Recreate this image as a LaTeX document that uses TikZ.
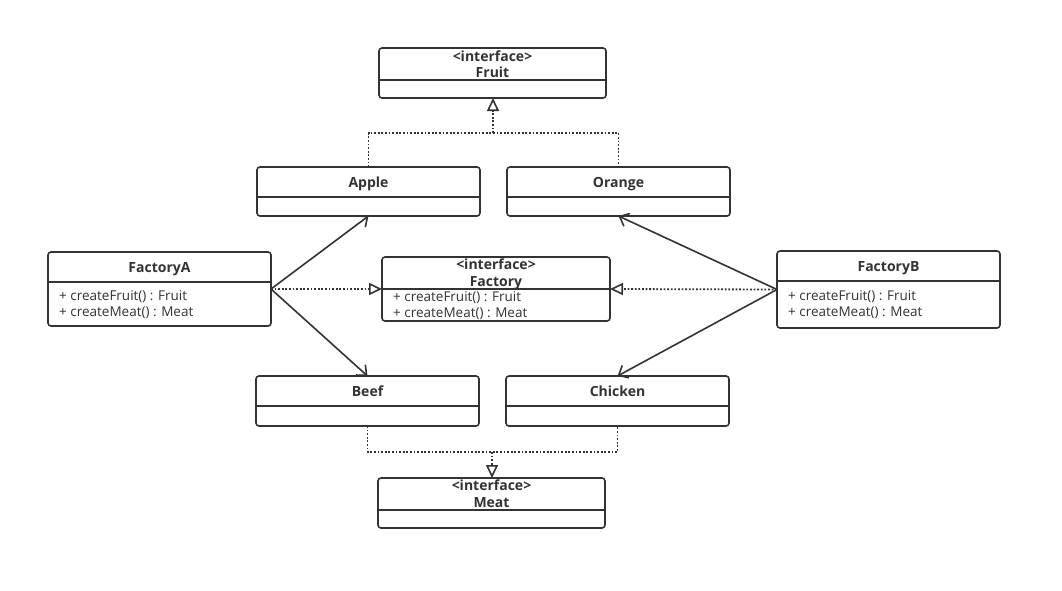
\documentclass[tikz,border=0pt]{standalone}
\usepackage{fontspec}
\setmainfont{Open Sans}
\usetikzlibrary{arrows.meta}
\definecolor{ink}{HTML}{333333}
\begin{document}
\begin{tikzpicture}[x=1pt,y=-1pt,
  cls/.style={draw=ink,line width=1.6pt,rounded corners=3pt,inner sep=0pt,outer sep=0pt,fill=white},
  ttl/.style={font=\fontsize{14}{15}\selectfont\bfseries,text=ink,inner sep=0pt,anchor=base},
  mth/.style={font=\fontsize{13.5}{16}\selectfont,text=ink,inner sep=0pt,anchor=base west},
  dotl/.style={draw=ink,line width=1.8pt,dash pattern=on 1.8pt off 1.8pt},
  real/.style={dotl,-{Triangle[open,length=13pt,width=12pt,line width=1.6pt]}},
  assoc/.style={draw=ink,line width=1.6pt,-{Straight Barb[length=8pt,width=14pt,line width=1.6pt]}}]
\useasboundingbox (0,0) rectangle (1062,590);
% boxes
\node[cls,minimum width=227pt,minimum height=50pt] (fruit) at (492.5,73) {};
\node[cls,minimum width=223pt,minimum height=49pt] (apple) at (368.5,191.5) {};
\node[cls,minimum width=223pt,minimum height=49pt] (orange) at (618.5,191.5) {};
\node[cls,minimum width=223pt,minimum height=74pt] (fa) at (159.5,289) {};
\node[cls,minimum width=228pt,minimum height=64pt] (fac) at (496,289) {};
\node[cls,minimum width=223pt,minimum height=77pt] (fb) at (888.5,289.5) {};
\node[cls,minimum width=223pt,minimum height=50pt] (beef) at (367.5,401) {};
\node[cls,minimum width=223pt,minimum height=50pt] (chicken) at (617.5,401) {};
\node[cls,minimum width=227pt,minimum height=50pt] (meat) at (491.5,503) {};
% dividers
\draw[ink,line width=1.6pt] (fruit.west |- 0,80) -- (fruit.east |- 0,80);
\draw[ink,line width=1.6pt] (apple.west |- 0,197) -- (apple.east |- 0,197);
\draw[ink,line width=1.6pt] (orange.west |- 0,197) -- (orange.east |- 0,197);
\draw[ink,line width=1.6pt] (fa.west |- 0,282) -- (fa.east |- 0,282);
\draw[ink,line width=1.6pt] (fac.west |- 0,289) -- (fac.east |- 0,289);
\draw[ink,line width=1.6pt] (fb.west |- 0,281) -- (fb.east |- 0,281);
\draw[ink,line width=1.6pt] (beef.west |- 0,406) -- (beef.east |- 0,406);
\draw[ink,line width=1.6pt] (chicken.west |- 0,406) -- (chicken.east |- 0,406);
\draw[ink,line width=1.6pt] (meat.west |- 0,510) -- (meat.east |- 0,510);
% titles
\node[ttl] (fruitS) at (492.5,61) {<interface>};
\node[ttl] (fruitT) at (492.5,77) {Fruit};
\node[ttl] (appleT) at (368.5,187) {Apple};
\node[ttl] (orangeT) at (618.5,187) {Orange};
\node[ttl] (faT) at (159.5,272) {FactoryA};
\node[ttl] (facS) at (496,269.5) {<interface>};
\node[ttl] (facT) at (496,286) {Factory};
\node[ttl] (fbT) at (888.5,271) {FactoryB};
\node[ttl] (beefT) at (367.5,396) {Beef};
\node[ttl] (chickenT) at (617.5,396) {Chicken};
\node[ttl] (meatS) at (491.5,490.5) {<interface>};
\node[ttl] (meatT) at (491.5,507) {Meat};
% methods
\node[mth] (faM1) at (59,300.5) {+ createFruit() : Fruit};
\node[mth] (faM2) at (59,316.5) {+ createMeat() : Meat};
\node[mth] (facM1) at (393,301.5) {+ createFruit() : Fruit};
\node[mth] (facM2) at (393,317.5) {+ createMeat() : Meat};
\node[mth] (fbM1) at (788,300.5) {+ createFruit() : Fruit};
\node[mth] (fbM2) at (788,316.5) {+ createMeat() : Meat};
% realization connectors
\coordinate (fj) at (493,133);
\coordinate (mj) at (492,452);
\draw[dotl] (apple.north) |- (fj) -| (orange.north);
\draw[real] (fj) -- (fj |- fruit.south);
\draw[dotl] (beef.south) |- (mj) -| (chicken.south);
\draw[real] (mj) -- (mj |- meat.north);
\coordinate (fap) at (fa.east);
\coordinate (fbp) at (fb.west);
\draw[real] (fap) -- (fac.west);
\draw[real] (fbp) -- (fac.east);
% associations
\draw[assoc] (fap) -- (apple.south);
\draw[assoc] (fap) -- (beef.north);
\draw[assoc] (fbp) -- (orange.south);
\draw[assoc] (fbp) -- (chicken.north);
\end{tikzpicture}
\end{document}
